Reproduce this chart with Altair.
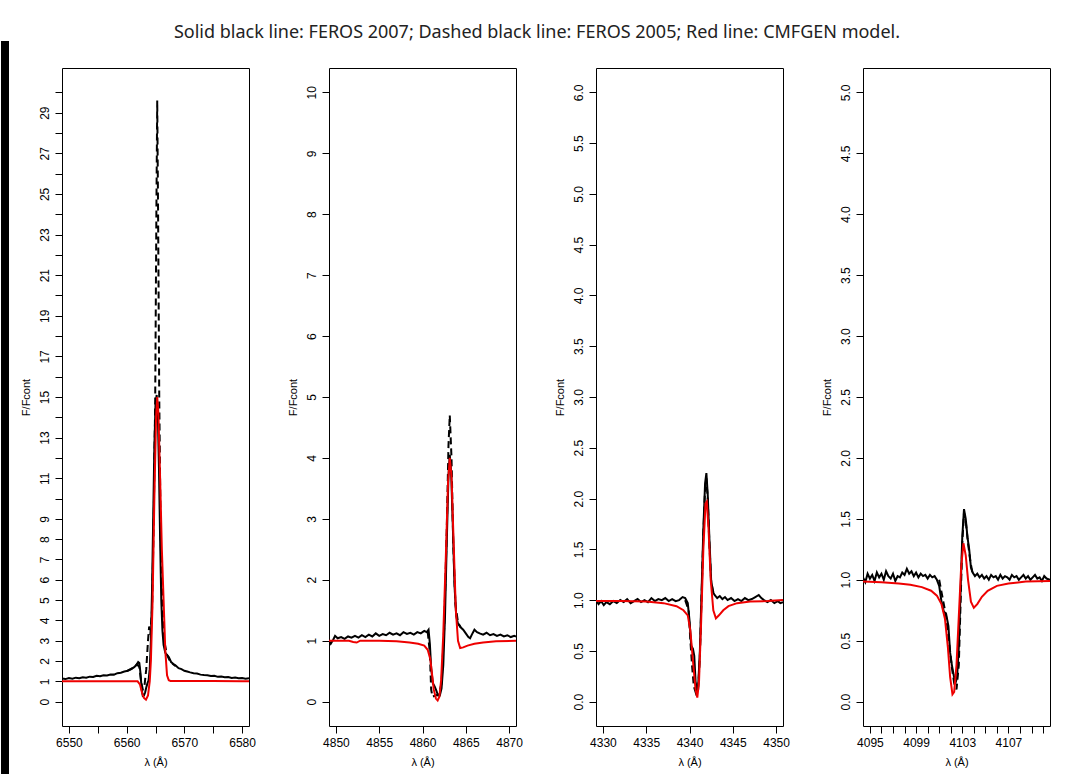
import altair as alt
import pandas as pd

TITLE = "Solid black line: FEROS 2007; Dashed black line: FEROS 2005; Red line: CMFGEN model."
X_TITLE = "λ (Å)"
Y_TITLE = "F/Fcont"

# ---------------- Panel 1 : H alpha ----------------
HA_XLIM = [6550, 6580]
HA_YLIM = [0, 30]
HA_XTICKS = [6550, 6555, 6560, 6565, 6570, 6575, 6580]
HA_YTICKS = list(range(0, 31))
HA_FEROS2007 = [
    (6548.8, 1.14), (6549.4, 1.11), (6550.0, 1.16), (6550.6, 1.13), (6551.2, 1.18), (6551.8, 1.15),
    (6552.4, 1.20), (6553.0, 1.18), (6553.6, 1.23), (6554.2, 1.21), (6554.8, 1.27), (6555.4, 1.25),
    (6556.0, 1.30), (6556.6, 1.29), (6557.2, 1.34), (6557.8, 1.33), (6558.4, 1.40), (6559.0, 1.42),
    (6559.6, 1.48), (6560.2, 1.52), (6560.8, 1.60), (6561.3, 1.70), (6561.7, 1.80), (6562.0, 1.95),
    (6562.2, 1.90), (6562.4, 1.40), (6562.6, 0.60), (6562.8, 0.28), (6563.0, 0.30), (6563.2, 0.45),
    (6563.4, 0.70), (6563.6, 0.90), (6563.8, 1.05), (6564.0, 1.60), (6564.2, 3.00), (6564.4, 5.50),
    (6564.6, 9.00), (6564.8, 12.5), (6565.0, 14.6), (6565.2, 15.1), (6565.4, 14.2), (6565.6, 11.5),
    (6565.8, 8.00), (6566.0, 5.00), (6566.2, 3.50), (6566.4, 2.80), (6566.7, 2.40), (6567.0, 2.30),
    (6567.3, 2.20), (6567.7, 1.95), (6568.1, 1.85), (6568.5, 1.78), (6569.0, 1.65), (6569.5, 1.60),
    (6570.0, 1.52), (6570.5, 1.48), (6571.0, 1.44), (6571.6, 1.40), (6572.2, 1.38), (6572.8, 1.33),
    (6573.4, 1.31), (6574.0, 1.30), (6574.6, 1.26), (6575.2, 1.27), (6575.8, 1.22), (6576.4, 1.24),
    (6577.0, 1.20), (6577.6, 1.21), (6578.2, 1.17), (6578.8, 1.19), (6579.4, 1.15), (6580.0, 1.16),
    (6580.6, 1.13), (6581.2, 1.15),
]
HA_FEROS2005 = [
    (6560.0, 1.50), (6561.0, 1.65), (6561.8, 1.85), (6562.2, 1.70), (6562.5, 1.00), (6562.8, 0.60),
    (6563.1, 0.80), (6563.4, 1.60), (6563.7, 3.00), (6563.9, 3.70), (6564.1, 3.30), (6564.4, 4.50),
    (6564.7, 9.00), (6564.95, 15.0), (6565.15, 24.0), (6565.3, 29.6), (6565.45, 24.0), (6565.65, 15.0),
    (6565.9, 8.00), (6566.2, 4.50), (6566.5, 3.00), (6567.0, 2.30), (6567.6, 1.95), (6568.5, 1.75),
]
HA_CMFGEN = [
    (6548.8, 1.00), (6555.0, 1.00), (6560.0, 1.00), (6561.9, 1.00), (6562.3, 0.85), (6562.7, 0.40),
    (6563.0, 0.18), (6563.35, 0.10), (6563.7, 0.30), (6564.0, 1.00), (6564.2, 2.00), (6564.5, 5.00),
    (6564.8, 10.0), (6565.1, 14.0), (6565.3, 15.0), (6565.5, 14.2), (6565.8, 11.0), (6566.1, 7.50),
    (6566.4, 5.00), (6566.7, 2.50), (6567.0, 1.30), (6567.3, 1.05), (6567.6, 1.02), (6570.0, 1.02),
    (6575.0, 1.01), (6580.0, 1.00), (6581.2, 1.00),
]

# ---------------- Panel 2 : H beta ----------------
HB_XLIM = [4850, 4870]
HB_YLIM = [0, 10]
HB_XTICKS = [4850, 4855, 4860, 4865, 4870]
HB_YTICKS = list(range(0, 11))
HB_FEROS2007 = [
    (4849.2, 1.00), (4849.4, 0.95), (4849.7, 1.02), (4849.9, 1.08), (4850.2, 1.04), (4850.6, 1.06),
    (4851.0, 1.03), (4851.4, 1.07), (4851.8, 1.05), (4852.2, 1.08), (4852.6, 1.05), (4853.0, 1.09),
    (4853.4, 1.06), (4853.8, 1.10), (4854.2, 1.07), (4854.6, 1.12), (4855.0, 1.08), (4855.4, 1.11),
    (4855.8, 1.09), (4856.2, 1.13), (4856.6, 1.10), (4857.0, 1.12), (4857.4, 1.09), (4857.8, 1.14),
    (4858.2, 1.11), (4858.6, 1.13), (4859.0, 1.10), (4859.4, 1.14), (4859.8, 1.12), (4860.2, 1.16),
    (4860.5, 1.14), (4860.7, 1.18), (4860.85, 0.95), (4861.0, 0.55), (4861.2, 0.30), (4861.4, 0.25),
    (4861.6, 0.18), (4861.8, 0.10), (4862.0, 0.10), (4862.2, 0.22), (4862.4, 0.60), (4862.6, 1.40),
    (4862.8, 2.60), (4863.0, 3.70), (4863.15, 4.05), (4863.3, 3.80), (4863.5, 2.90), (4863.7, 1.90),
    (4863.9, 1.40), (4864.1, 1.28), (4864.4, 1.22), (4864.7, 1.18), (4865.0, 1.12), (4865.3, 1.06),
    (4865.5, 1.04), (4865.7, 1.10), (4866.0, 1.18), (4866.3, 1.14), (4866.6, 1.12), (4867.0, 1.10),
    (4867.4, 1.13), (4867.8, 1.09), (4868.2, 1.11), (4868.6, 1.08), (4869.0, 1.10), (4869.4, 1.07),
    (4869.8, 1.09), (4870.2, 1.06), (4870.6, 1.08), (4870.8, 1.07),
]
HB_FEROS2005 = [
    (4860.6, 1.15), (4860.85, 0.80), (4861.0, 0.20), (4861.15, 0.08), (4861.5, 0.10), (4861.9, 0.12),
    (4862.2, 0.30), (4862.5, 1.20), (4862.8, 2.80), (4863.0, 4.20), (4863.15, 4.70), (4863.35, 4.00),
    (4863.55, 2.60), (4863.8, 1.60), (4864.1, 1.30), (4864.4, 1.22),
]
HB_CMFGEN = [
    (4849.2, 1.00), (4851.5, 1.00), (4852.0, 0.98), (4852.4, 0.97), (4852.8, 1.00), (4855.0, 1.00),
    (4857.0, 0.99), (4858.5, 0.97), (4859.5, 0.95), (4860.2, 0.92), (4860.6, 0.85), (4860.9, 0.70),
    (4861.1, 0.45), (4861.3, 0.20), (4861.55, 0.05), (4861.75, 0.02), (4861.95, 0.08), (4862.15, 0.35),
    (4862.4, 1.10), (4862.7, 2.40), (4862.95, 3.60), (4863.15, 4.00), (4863.35, 3.70), (4863.6, 2.60),
    (4863.85, 1.50), (4864.1, 1.00), (4864.35, 0.88), (4864.7, 0.89), (4865.2, 0.92), (4866.0, 0.95),
    (4867.0, 0.97), (4868.5, 0.99), (4870.8, 1.00),
]

# ---------------- Panel 3 : H gamma ----------------
HG_XLIM = [4330, 4350]
HG_YLIM = [0, 6]
HG_XTICKS = [4330, 4335, 4340, 4345, 4350]
HG_YTICKS = [0, 0.5, 1, 1.5, 2, 2.5, 3, 3.5, 4, 4.5, 5, 5.5, 6]
HG_FEROS2007 = [
    (4329.2, 1.00), (4329.5, 0.96), (4329.8, 0.99), (4330.1, 0.95), (4330.4, 0.98), (4330.8, 0.96),
    (4331.2, 0.99), (4331.6, 0.97), (4332.0, 1.00), (4332.4, 0.98), (4332.8, 1.01), (4333.2, 0.97),
    (4333.6, 0.99), (4334.0, 1.01), (4334.4, 0.98), (4334.8, 1.00), (4335.2, 0.98), (4335.6, 1.02),
    (4336.0, 0.99), (4336.4, 1.01), (4336.8, 1.00), (4337.2, 1.02), (4337.6, 0.99), (4338.0, 1.01),
    (4338.4, 0.99), (4338.8, 1.00), (4339.2, 1.03), (4339.5, 1.02), (4339.8, 0.97), (4340.0, 0.80),
    (4340.2, 0.55), (4340.4, 0.52), (4340.55, 0.45), (4340.7, 0.20), (4340.85, 0.12), (4341.0, 0.15),
    (4341.2, 0.50), (4341.4, 1.10), (4341.6, 1.70), (4341.8, 2.15), (4341.95, 2.25), (4342.1, 2.05),
    (4342.3, 1.60), (4342.5, 1.20), (4342.7, 1.08), (4342.9, 1.05), (4343.2, 1.02), (4343.5, 1.04),
    (4343.8, 1.01), (4344.1, 1.03), (4344.4, 1.00), (4344.8, 1.02), (4345.2, 0.99), (4345.6, 1.01),
    (4346.0, 0.99), (4346.4, 1.02), (4346.8, 1.00), (4347.2, 1.01), (4347.6, 1.03), (4348.0, 1.05),
    (4348.3, 1.02), (4348.6, 1.00), (4349.0, 0.98), (4349.4, 1.00), (4349.8, 0.97), (4350.2, 0.99),
    (4350.5, 0.97), (4350.8, 0.98),
]
HG_FEROS2005 = [
    (4339.5, 1.00), (4339.9, 0.90), (4340.1, 0.60), (4340.3, 0.35), (4340.5, 0.15), (4340.75, 0.08),
    (4341.0, 0.12), (4341.2, 0.45), (4341.4, 1.05), (4341.6, 1.65), (4341.8, 2.10), (4341.95, 2.20),
    (4342.1, 2.00), (4342.3, 1.55), (4342.5, 1.18), (4342.8, 1.06),
]
HG_CMFGEN = [
    (4329.2, 0.99), (4332.0, 0.99), (4335.0, 0.985), (4337.0, 0.97), (4338.5, 0.94), (4339.3, 0.90),
    (4339.8, 0.85), (4340.1, 0.70), (4340.4, 0.40), (4340.7, 0.12), (4340.9, 0.04), (4341.1, 0.20),
    (4341.35, 0.80), (4341.6, 1.50), (4341.85, 1.95), (4342.0, 1.97), (4342.2, 1.70), (4342.45, 1.20),
    (4342.75, 0.90), (4343.05, 0.82), (4343.4, 0.85), (4343.9, 0.90), (4344.5, 0.94), (4345.5, 0.97),
    (4347.0, 0.985), (4349.0, 0.99), (4350.8, 1.00),
]

# ---------------- Panel 4 : H delta ----------------
HD_XLIM = [4095, 4110]
HD_YLIM = [0, 5]
HD_XTICKS = list(range(4095, 4111))
HD_YTICKS = [0, 0.5, 1, 1.5, 2, 2.5, 3, 3.5, 4, 4.5, 5]
HD_FEROS2007 = [
    (4094.4, 1.02), (4094.6, 0.98), (4094.8, 1.05), (4095.0, 1.01), (4095.2, 1.04), (4095.4, 0.99),
    (4095.6, 1.06), (4095.8, 1.02), (4096.0, 1.05), (4096.2, 1.00), (4096.4, 1.07), (4096.6, 1.03),
    (4096.8, 1.01), (4097.0, 1.05), (4097.2, 0.99), (4097.4, 1.03), (4097.6, 1.02), (4097.8, 1.06),
    (4098.0, 1.04), (4098.2, 1.09), (4098.4, 1.05), (4098.6, 1.07), (4098.8, 1.03), (4099.0, 1.06),
    (4099.2, 1.02), (4099.4, 1.05), (4099.6, 1.03), (4099.8, 1.04), (4100.0, 1.01), (4100.2, 1.04),
    (4100.4, 1.02), (4100.6, 1.03), (4100.8, 1.00), (4101.0, 0.95), (4101.2, 0.82), (4101.4, 0.74),
    (4101.6, 0.72), (4101.8, 0.62), (4101.95, 0.40), (4102.1, 0.30), (4102.25, 0.22), (4102.4, 0.15),
    (4102.55, 0.20), (4102.7, 0.45), (4102.85, 0.90), (4103.0, 1.35), (4103.15, 1.58), (4103.3, 1.50),
    (4103.45, 1.35), (4103.6, 1.25), (4103.75, 1.10), (4103.9, 1.06), (4104.1, 1.03), (4104.3, 1.05),
    (4104.5, 1.02), (4104.7, 1.04), (4104.9, 1.01), (4105.1, 1.03), (4105.3, 1.00), (4105.5, 1.04),
    (4105.7, 1.02), (4105.9, 1.03), (4106.1, 1.00), (4106.3, 1.04), (4106.5, 1.01), (4106.7, 1.03),
    (4106.9, 1.02), (4107.1, 1.00), (4107.3, 1.04), (4107.5, 1.02), (4107.7, 1.03), (4107.9, 1.00),
    (4108.1, 1.02), (4108.3, 1.04), (4108.5, 1.01), (4108.7, 1.03), (4108.9, 1.00), (4109.1, 1.02),
    (4109.3, 1.04), (4109.5, 1.01), (4109.7, 1.02), (4109.9, 0.99), (4110.1, 1.03), (4110.3, 1.01),
    (4110.6, 1.00),
]
HD_FEROS2005 = [
    (4101.0, 1.00), (4101.3, 0.85), (4101.6, 0.70), (4101.9, 0.45), (4102.1, 0.28), (4102.3, 0.15),
    (4102.5, 0.10), (4102.7, 0.30), (4102.85, 0.80), (4103.0, 1.30), (4103.15, 1.55), (4103.3, 1.48),
    (4103.5, 1.30), (4103.7, 1.15), (4103.9, 1.05),
]
HD_CMFGEN = [
    (4094.4, 0.985), (4096.0, 0.98), (4097.5, 0.97), (4098.5, 0.96), (4099.5, 0.94), (4100.3, 0.91),
    (4100.8, 0.87), (4101.2, 0.80), (4101.5, 0.68), (4101.75, 0.45), (4101.95, 0.20), (4102.15, 0.06),
    (4102.3, 0.08), (4102.5, 0.30), (4102.7, 0.70), (4102.9, 1.10), (4103.1, 1.30), (4103.3, 1.20),
    (4103.5, 1.00), (4103.75, 0.82), (4104.0, 0.77), (4104.3, 0.80), (4104.7, 0.86), (4105.2, 0.91),
    (4106.0, 0.95), (4107.0, 0.97), (4108.5, 0.985), (4110.6, 0.99),
]

PANEL_W = 187
PANEL_H = 658
FONT = "Liberation Sans"


def r_range(lim):
    lo, hi = lim
    d = (hi - lo) * 0.04
    return [lo - d, hi + d]


def make_panel(xlim, ylim, xticks, yticks, x_expr, y_expr, y_fmt, solid, dashed, model, extra=None):
    xs = alt.Scale(domain=r_range(xlim), nice=False, zero=False)
    ys = alt.Scale(domain=r_range(ylim), nice=False, zero=False)
    xa = alt.Axis(
        values=xticks, format="d", labelExpr=x_expr, tickSize=7, tickColor="black",
        domain=False, grid=False, labelFont=FONT, labelFontSize=12, labelColor="black",
        labelPadding=4, labelFlush=False, labelOverlap=False,
        title=X_TITLE, titleFont=FONT, titleFontSize=11, titleFontWeight="normal",
        titleColor="black", titleX=PANEL_W / 2, titleY=36, titleBaseline="middle",
        titleAlign="center",
    )
    ya = alt.Axis(
        values=yticks, format=y_fmt, labelExpr=y_expr, tickSize=7, tickColor="black",
        domain=False, grid=False, labelFont=FONT, labelFontSize=12, labelColor="black",
        labelAngle=270, labelAlign="center", labelBaseline="bottom", labelPadding=4,
        labelFlush=False, labelOverlap=False,
        title=Y_TITLE, titleFont=FONT, titleFontSize=11, titleFontWeight="normal",
        titleColor="black", titleAngle=270, titleX=-36, titleY=PANEL_H / 2,
        titleBaseline="middle", titleAlign="center",
    )

    def layer(pairs, color, dash=None):
        df = pd.DataFrame(pairs, columns=["wl", "f"])
        if dash:
            m = alt.Chart(df).mark_line(color=color, strokeWidth=2, strokeDash=dash, clip=True)
        else:
            m = alt.Chart(df).mark_line(color=color, strokeWidth=2, clip=True)
        return m.encode(
            x=alt.X("wl:Q", scale=xs, axis=xa),
            y=alt.Y("f:Q", scale=ys, axis=ya),
        )

    layers = [layer(solid, "black"), layer(dashed, "black", [7, 4]), layer(model, "#ee0000")]
    if extra:
        layers += extra
    return alt.layer(*layers).properties(width=PANEL_W, height=PANEL_H)


one = pd.DataFrame({"k": [0]})
strip = alt.Chart(one).mark_rect(color="black").encode(
    x=alt.value(-61), x2=alt.value(-53), y=alt.value(-27), y2=alt.value(707)
)
title_text = alt.Chart(one).mark_text(
    font="Noto Sans", fontSize=18, color="#222222", align="center", baseline="middle"
).encode(x=alt.value(475), y=alt.value(-35), text=alt.value(TITLE))

p1 = make_panel(
    HA_XLIM, HA_YLIM, HA_XTICKS, HA_YTICKS,
    "datum.value % 10 == 0 ? datum.label : ''",
    "(datum.value <= 9 || datum.value % 2 == 1) && datum.value < 30 ? datum.label : ''",
    "d", HA_FEROS2007, HA_FEROS2005, HA_CMFGEN, extra=[strip, title_text],
)
p2 = make_panel(
    HB_XLIM, HB_YLIM, HB_XTICKS, HB_YTICKS,
    "datum.label", "datum.label", "d", HB_FEROS2007, HB_FEROS2005, HB_CMFGEN,
)
p3 = make_panel(
    HG_XLIM, HG_YLIM, HG_XTICKS, HG_YTICKS,
    "datum.label", "datum.label", ".1f", HG_FEROS2007, HG_FEROS2005, HG_CMFGEN,
)
p4 = make_panel(
    HD_XLIM, HD_YLIM, HD_XTICKS, HD_YTICKS,
    "(datum.value - 4095) % 4 == 0 && datum.value < 4110 ? datum.label : ''",
    "datum.label", ".1f", HD_FEROS2007, HD_FEROS2005, HD_CMFGEN,
)

chart = (
    alt.hconcat(p1, p2, p3, p4, spacing=80, bounds="flush")
    .properties(padding={"left": 0, "top": 23, "right": 0, "bottom": 0}, background="white")
    .configure_view(stroke="black", strokeWidth=1)
)

chart.save("out.html", embed_options={"renderer": "svg", "actions": False})
